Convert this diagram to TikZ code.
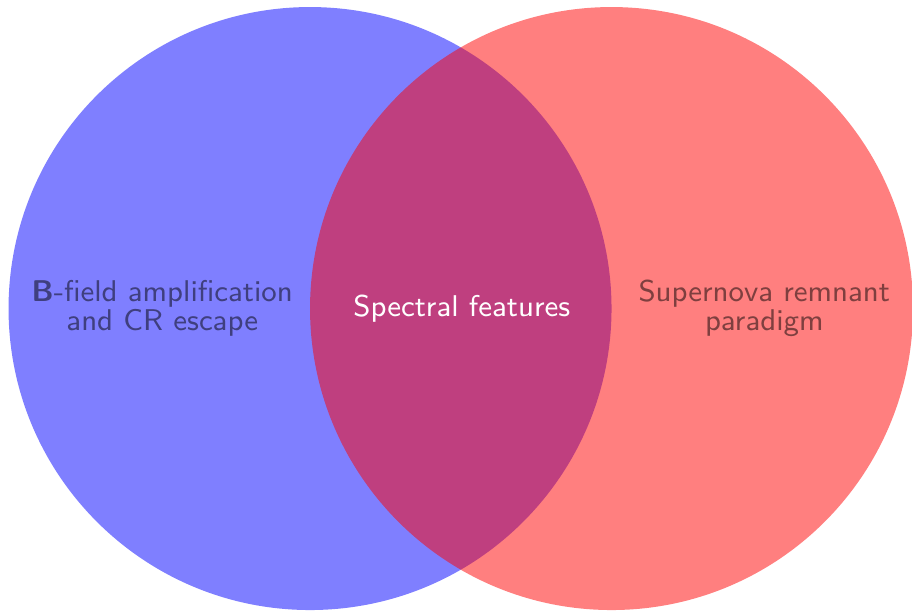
\documentclass[tikz,border=0pt]{standalone}
\begin{document}
\begin{tikzpicture}[
    settext/.style={font=\sffamily\fontsize{8.5}{8.1}\selectfont, align=center},
    faded/.style={fill opacity=0.5, text opacity=0.5}]
  \useasboundingbox (-3.085,-3.01) rectangle (5.99,3.07);
  % left set
  \begin{scope}[faded]
    \fill[blue] (0,0) circle (3);
    \node[settext] (field) at (-1.47,0) {\textbf{B}-field amplification\\and CR escape};
  \end{scope}
  % right set
  \begin{scope}[faded]
    \fill[red] (3,0) circle (3);
    \node[settext] (snr) at (4.52,0) {Supernova remnant\\paradigm};
  \end{scope}
  % overlap
  \node[settext, text=white] (spectra) at (1.51,0) {Spectral features};
\end{tikzpicture}
\end{document}
